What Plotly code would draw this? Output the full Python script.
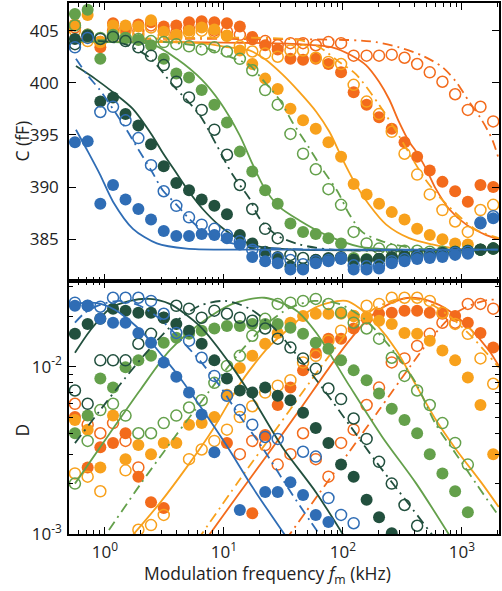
import plotly.graph_objects as go
from plotly.subplots import make_subplots

# Modulation frequencies (kHz)
F = [0.56, 0.716, 0.915, 1.17, 1.49, 1.91, 2.44, 3.12, 3.98, 5.09, 6.5, 8.31, 10.6, 13.6,
     17.3, 22.2, 28.3, 36.2, 46.2, 59.1, 75.5, 96.4, 123, 158, 201, 257, 329, 420, 536,
     685, 876, 1120, 1430, 1830]

# ---- top panel: capacitance C (fF) ----
C_blue_f = [394.3, 394.4, 388.4, 390.2, 388.8, 387.9, 386.9, 385.8, 385.3, 385.3, 385.5, 385.4, 385.1, 384.5,
            383.3, 382.9, 382.7, 382.1, 382.1, 382.7, 382.9, 383.1, 382.1, 382.1, 382.2, 382.7, 382.9, 383.1,
            383.2, 383.3, 383.5, 383.6, 386.5, 387.0]
C_blue_o = [403.4, 404.3, 397.2, 397.7, 396.4, 394.7, 392.1, 389.6, 388.2, 387.1, 386.4, 386.0, 385.4, 384.8,
            384.0, 383.5, 383.2, 383.0, 382.6, 382.9, 383.0, 383.2, 382.5, 382.4, 382.5, 382.9, 383.1, 383.3,
            383.4, 383.5, 383.7, 383.8, 386.6, 387.2]
C_dgreen_f = [404.2, 404.5, 398.2, 398.6, 397.0, 395.9, 394.1, 392.0, 390.4, 389.7, 388.8, 388.2, 387.4, 385.4,
              384.6, 383.8, 383.3, 382.4, 382.2, 383.0, 383.2, 383.3, 383.0, 383.0, 383.1, 383.3, 383.4, 383.5,
              383.6, 383.7, 383.8, 383.9, 384.0, 384.1]
C_dgreen_o = [403.7, 404.5, 404.2, 404.4, 404.0, 403.4, 402.6, 401.7, 400.1, 398.6, 397.4, 395.5, 393.1, 390.2,
              387.9, 386.0, 385.1, 383.5, 383.2, 383.0, 383.1, 383.2, 383.0, 383.0, 383.1, 383.2, 383.3, 383.4,
              383.5, 383.6, 383.7, 383.8, 384.0, 384.1]
C_green_f = [406.6, 407.0, 402.3, 404.6, 404.3, 404.1, 403.6, 402.3, 400.9, 400.5, 399.3, 397.9, 396.2, 393.4,
             391.5, 389.7, 388.4, 386.5, 385.7, 385.5, 385.1, 384.6, 383.2, 383.1, 383.1, 383.2, 383.3, 383.4,
             383.5, 383.6, 383.7, 383.8, 384.0, 384.1]
C_green_o = [405.5, 404.6, 404.3, 404.5, 404.3, 404.2, 404.0, 403.9, 403.7, 403.5, 403.2, 403.4, 403.0, 402.3,
             401.2, 399.3, 397.9, 395.1, 393.2, 391.7, 389.8, 388.3, 385.7, 384.6, 384.1, 384.0, 383.9, 383.9,
             383.8, 383.8, 383.8, 383.9, 384.0, 384.1]
C_lorange_f = [405.6, 406.5, 403.9, 405.5, 405.5, 405.4, 406.0, 404.9, 404.6, 405.0, 405.3, 405.1, 404.5, 403.1,
               401.8, 400.4, 399.4, 397.5, 396.4, 395.6, 394.3, 392.9, 390.3, 389.3, 388.4, 387.6, 386.9, 386.0,
               385.4, 385.0, 384.6, 384.5, None, None]
C_lorange_o = [405.0, 404.0, 403.9, 404.8, 405.0, 404.6, 405.3, 404.5, 404.4, 404.8, 405.0, 404.8, 404.5, 403.5,
               403.0, 402.8, 402.5, 403.1, 403.1, 402.4, 402.0, 401.8, 399.8, 398.2, 397.0, 395.3, 393.2, 391.2,
               389.3, 387.8, 386.7, 385.7, 387.8, 388.3]
C_dorange_f = [405.6, None, 403.4, 405.7, 405.3, 405.6, 405.8, 405.4, 405.5, 405.8, 405.9, 405.8, 405.7, 405.4,
               404.4, 403.6, 403.2, 402.3, 402.2, 402.3, 401.8, 401.0, 399.1, 397.9, 396.7, 395.6, 394.3, 392.9,
               391.6, 390.5, 389.6, 388.6, 390.2, 390.0]
C_dorange_o = [405.3, 404.6, 403.9, 405.0, 405.2, 405.0, 405.5, 405.0, 404.8, 405.2, 405.4, 405.0, 404.9, 404.6,
               404.2, 404.0, 403.6, 403.8, 403.8, 403.6, 403.9, 403.8, 402.6, 402.6, 402.6, 402.7, 402.4, 401.8,
               401.0, 400.1, 398.9, 397.4, 397.7, 396.3]

# fit curves, top panel (frequency, C)
fitC_blue_f_x = [0.571, 0.72, 0.91, 1.17, 1.72, 2.73, 4.86, 11.8, 2000]
fitC_blue_f_y = [395.5, 393.4, 391.2, 388.6, 386.0, 384.6, 384.1, 384.0, 384.0]
fitC_blue_o_x = [0.571, 0.706, 0.908, 1.167, 1.5, 1.89, 2.48, 3.06, 4.01, 5.06, 6.51, 8.2, 11.8, 29.2, 2000]
fitC_blue_o_y = [402.3, 400.8, 399.3, 397.5, 395.6, 393.7, 391.5, 389.7, 388.3, 387.0, 385.9, 385.2, 384.6, 384.1, 384.0]
fitC_dgreen_f_x = [0.571, 0.824, 1.167, 1.716, 2.48, 3.06, 4.01, 5.06, 6.63, 9.2, 13.5, 19.9, 43.1, 2000]
fitC_dgreen_f_y = [401.6, 400.4, 399.1, 397.5, 395.0, 393.3, 391.3, 389.6, 387.9, 386.3, 385.0, 384.3, 384.0, 384.0]
fitC_dgreen_o_x = [0.571, 0.908, 1.47, 2.38, 3.71, 6.25, 8.7, 11.8, 16.4, 19.9, 27.6, 43.1, 81.2, 2000]
fitC_dgreen_o_y = [404.1, 404.0, 403.7, 402.4, 399.8, 396.9, 394.0, 391.2, 388.9, 387.0, 385.4, 384.5, 384.0, 384.0]
fitC_green_f_x = [0.56, 1.167, 2.48, 4.01, 6.51, 9.2, 13.5, 17.4, 21.9, 29.2, 43.1, 72.5, 137, 297, 2000]
fitC_green_f_y = [404.0, 403.9, 403.7, 402.3, 400.3, 398.2, 395.0, 392.2, 389.9, 388.1, 386.8, 385.4, 384.3, 384.0, 384.0]
fitC_green_o_x = [0.56, 2.38, 6.25, 11.1, 16.4, 21.1, 29.2, 37.7, 50.4, 67.3, 89.9, 113, 145, 214, 413, 2000]
fitC_green_o_y = [404.1, 404.0, 403.5, 402.5, 401.7, 400.3, 398.4, 396.2, 394.0, 391.7, 389.6, 387.4, 385.7, 384.8, 384.1, 384.0]
fitC_lorange_f_x = [0.56, 6.25, 11.1, 16.4, 21.9, 31.0, 43.1, 59.8, 76.9, 98.9, 124.6, 166, 231, 360, 561, 893, 1687]
fitC_lorange_f_y = [403.9, 403.8, 403.4, 403.1, 402.3, 400.8, 399.1, 397.2, 395.3, 392.7, 390.5, 388.3, 386.4, 385.1, 384.5, 384.1, 384.0]
fitC_lorange_o_x = [0.56, 43.1, 63.5, 93.0, 129, 201, 282, 362, 481, 642, 947, 1315, 2036]
fitC_lorange_o_y = [404.1, 404.1, 403.4, 402.0, 400.8, 397.9, 395.3, 393.2, 390.9, 389.1, 387.2, 385.9, 385.1]
fitC_dorange_f_x = [0.56, 43.1, 81.2, 119, 156, 201, 245, 297, 362, 413, 502, 605, 779, 1087, 1600, 2036]
fitC_dorange_f_y = [404.0, 403.7, 403.4, 402.6, 401.7, 400.1, 398.4, 396.2, 394.3, 393.4, 391.7, 389.8, 387.9, 386.4, 385.4, 385.0]
fitC_dorange_o_x = [0.56, 113, 190, 297, 465, 684, 892, 1146, 1454, 1790, 2036]
fitC_dorange_o_y = [404.2, 404.1, 403.9, 403.4, 402.6, 401.5, 400.1, 398.2, 396.5, 394.6, 392.7]

# ---- bottom panel: dissipation D ----
D_blue_f = [0.0231, 0.0231, 0.0193, 0.0183, 0.0183, 0.0159, 0.0139, 0.0106, 0.0087, 0.0070, 0.00518, 0.00308,
            None, 0.00139, None, 0.00178, 0.00178, 0.00204, 0.00171, 0.00130, 0.00118, None, None, None, None,
            None, None, None, None, None, None, None, None, None]
D_blue_o = [0.0241, 0.0231, 0.0228, 0.0258, 0.0258, 0.0258, 0.0247, 0.0207, 0.0159, 0.0143, 0.0113, 0.0088,
            0.0067, 0.0055, 0.0045, 0.0038, 0.0037, None, 0.0031, 0.0029, 0.00164, 0.0013, 0.00116, None, None,
            None, None, None, None, None, None, None, None, None]
D_dgreen_f = [0.0157, 0.0180, 0.0193, 0.0222, 0.0216, 0.0210, 0.0210, 0.0196, 0.0180, 0.0164, 0.0137, 0.0109,
              0.0085, 0.0072, 0.0070, 0.0075, 0.0067, 0.0063, 0.0053, 0.0043, 0.0035, 0.0026, 0.0022, 0.0016,
              0.00126, 0.00101, None, None, None, None, None, None, None, None]
D_dgreen_o = [0.0072, 0.0060, 0.0109, 0.0109, 0.0109, 0.0137, 0.0157, 0.0196, 0.0231, 0.0222, 0.0196, 0.0216,
              0.0207, 0.0196, 0.0188, 0.0169, 0.0147, 0.0130, 0.0112, 0.0097, 0.0074, 0.0064, 0.0049, 0.0037,
              0.0027, 0.0020, 0.00149, 0.00112, None, None, None, None, None, None]
D_green_f = [0.0040, 0.0051, 0.0085, 0.0075, 0.0099, 0.0109, 0.0116, 0.0139, 0.0149, 0.0157, 0.0164, 0.0169,
             0.0175, 0.0175, 0.0180, 0.0180, 0.0180, 0.0171, 0.0157, 0.0139, 0.0128, 0.0109, 0.0095, 0.0083,
             0.0069, 0.0056, 0.0048, 0.0040, 0.0030, 0.0023, 0.0018, 0.00135, None, None]
D_green_o = [0.0020, 0.0036, 0.0055, 0.0060, 0.0051, 0.0040, 0.0040, 0.0046, 0.0051, 0.0057, 0.0063, 0.0080,
             0.0101, 0.0116, 0.0153, 0.0193, 0.0237, 0.0241, 0.0247, 0.0254, 0.0237, 0.0210, 0.0183, 0.0169,
             0.0147, 0.0113, 0.0088, 0.0072, 0.0059, 0.0046, 0.0035, 0.0026, None, None]
D_lorange_f = [0.0048, 0.0042, 0.0025, 0.0051, 0.0028, 0.0034, 0.0030, 0.0035, 0.0035, 0.0045, 0.0046, 0.0050,
               0.0068, 0.0098, 0.0116, 0.0137, 0.0159, 0.0183, 0.0201, 0.0207, 0.0207, 0.0207, 0.0201, 0.0198,
               0.0188, 0.0180, 0.0159, 0.0157, 0.0143, 0.0125, 0.0109, 0.0086, 0.0059, 0.0030]
D_lorange_o = [0.0023, 0.0022, 0.0018, None, 0.0024, 0.00106, 0.00113, 0.0013, None, 0.0028, 0.0032, 0.0036,
               0.0042, 0.0050, 0.0058, 0.0070, 0.0077, 0.0083, 0.0106, 0.0116, 0.0143, 0.0164, 0.0201, 0.0231,
               0.0237, 0.0258, 0.0258, 0.0258, 0.0247, 0.0210, 0.0180, 0.0157, 0.0112, 0.0079]
D_dorange_f = [0.0050, 0.0025, 0.0033, 0.0035, 0.0040, 0.0022, 0.00155, 0.00143, None, None, None, None,
               0.0035, None, 0.00133, 0.0039, 0.0059, 0.0075, 0.0095, 0.0121, 0.0147, 0.0147, 0.0169, 0.0193,
               0.0207, 0.0210, 0.0216, 0.0216, 0.0210, 0.0207, 0.0201, 0.0183, 0.0159, 0.0130]
D_dorange_o = [0.0060, 0.0045, 0.0040, 0.0046, 0.0036, 0.0025, None, None, None, None, None, None, None,
               0.0030, 0.0036, 0.0034, 0.0026, 0.0030, 0.0040, 0.0028, 0.0022, 0.0035, 0.0042, 0.0059,
               0.0075, 0.0106, 0.0112, 0.0133, 0.0157, 0.0183, 0.0183, 0.0237, 0.0237, 0.0222]

# fit curves, bottom panel (frequency, D)
fitD_blue_f_x = [0.56, 0.68, 0.908, 1.213, 1.62, 2.165, 2.89, 4.01, 6.25, 10.5, 17.4, 33.4]
fitD_blue_f_y = [0.0235, 0.0241, 0.0238, 0.0219, 0.0188, 0.0155, 0.0121, 0.0091, 0.00586, 0.00339, 0.0019, 0.00096]
fitD_blue_o_x = [0.56, 0.68, 0.908, 1.336, 1.965, 2.89, 4.25, 6.25, 9.2, 13.5, 20.7, 35.5, 52.4, 65.8]
fitD_blue_o_y = [0.0183, 0.0210, 0.0234, 0.0247, 0.0231, 0.0193, 0.0147, 0.0109, 0.0077, 0.0051, 0.00334, 0.00183, 0.00121, 0.00096]
fitD_dgreen_f_x = [0.56, 0.749, 1.1, 1.62, 2.38, 3.5, 6.25, 11.8, 17.4, 31.0, 59.8, 103]
fitD_dgreen_f_y = [0.0121, 0.0164, 0.0222, 0.0247, 0.0254, 0.0237, 0.0175, 0.0099, 0.0065, 0.0033, 0.00176, 0.00096]
fitD_dgreen_o_x = [0.56, 0.908, 1.47, 2.38, 3.86, 6.25, 10.1, 16.4, 26.6, 43.1, 69.8, 113, 190, 362, 561]
fitD_dgreen_o_y = [0.00349, 0.00547, 0.0085, 0.0128, 0.0183, 0.0231, 0.0247, 0.0222, 0.0169, 0.0112, 0.0072, 0.0045, 0.0027, 0.00149, 0.00099]
fitD_green_f_x = [0.56, 1.1, 1.965, 3.5, 6.25, 11.8, 21.9, 40.7, 59.8, 113, 214, 413, 779]
fitD_green_f_y = [0.0020, 0.0040, 0.0072, 0.0125, 0.0180, 0.0237, 0.0258, 0.0216, 0.0159, 0.0077, 0.0038, 0.0020, 0.00099]
fitD_green_o_x = [0.85, 1.965, 3.86, 7.6, 13.5, 21.9, 35.5, 57.6, 93.0, 151, 245, 397, 605, 892, 1315, 2036]
fitD_green_o_y = [0.00082, 0.00196, 0.0038, 0.0072, 0.0121, 0.0175, 0.0224, 0.0247, 0.0237, 0.0193, 0.0133, 0.0083, 0.0045, 0.0030, 0.0020, 0.00128]
fitD_lorange_f_x = [1.6, 2.89, 4.87, 8.04, 13.5, 16.4, 24.2, 35.5, 52.4, 76.9, 107, 137, 190, 282, 413, 605, 892, 1476, 2036]
fitD_lorange_f_y = [0.00093, 0.00153, 0.00251, 0.0042, 0.0078, 0.0095, 0.0133, 0.0170, 0.0216, 0.0241, 0.0247, 0.0224, 0.0180, 0.0125, 0.0077, 0.0048, 0.0032, 0.0020, 0.00145]
fitD_lorange_o_x = [6.0, 13.5, 29.2, 63.5, 113, 183, 297, 481, 779, 1146, 1687, 2036]
fitD_lorange_o_y = [0.00092, 0.0021, 0.0045, 0.0097, 0.0164, 0.0222, 0.0254, 0.0247, 0.0201, 0.0157, 0.0116, 0.0099]
fitD_dorange_f_x = [7.0, 13.5, 24.2, 43.1, 76.9, 113, 166, 245, 362, 530, 779, 1146, 1687, 2036]
fitD_dorange_f_y = [0.00092, 0.00176, 0.0031, 0.0055, 0.0099, 0.0143, 0.0196, 0.0237, 0.0258, 0.0247, 0.0216, 0.0171, 0.0125, 0.0101]
fitD_dorange_o_x = [33, 63.5, 113, 201, 362, 582, 857, 1260, 1687, 2036]
fitD_dorange_o_y = [0.00092, 0.00176, 0.0031, 0.0055, 0.0099, 0.0155, 0.0206, 0.0237, 0.0251, 0.0251]

x_tickvals = [1, 10, 100, 1000]
x_ticktext = ["10<sup>0</sup>", "10<sup>1</sup>", "10<sup>2</sup>", "10<sup>3</sup>"]
x_minor = [0.5, 0.6, 0.7, 0.8, 0.9, 2, 3, 4, 5, 6, 7, 8, 9, 20, 30, 40, 50, 60, 70, 80, 90,
           200, 300, 400, 500, 600, 700, 800, 900, 2000]
c_tickvals = [385, 390, 395, 400, 405]
d_tickvals = [0.001, 0.01]
d_ticktext = ["10<sup>-3</sup>", "10<sup>-2</sup>"]
d_minor = [0.002, 0.003, 0.004, 0.005, 0.006, 0.007, 0.008, 0.009, 0.02, 0.03]

COL = {
    "blue": "#2f6db5",
    "dgreen": "#22503e",
    "green": "#64a04b",
    "lorange": "#f8a11c",
    "dorange": "#f36b1c",
}

series = {
    "dorange": (C_dorange_f, C_dorange_o, D_dorange_f, D_dorange_o,
                (fitC_dorange_f_x, fitC_dorange_f_y), (fitC_dorange_o_x, fitC_dorange_o_y),
                (fitD_dorange_f_x, fitD_dorange_f_y), (fitD_dorange_o_x, fitD_dorange_o_y)),
    "lorange": (C_lorange_f, C_lorange_o, D_lorange_f, D_lorange_o,
                (fitC_lorange_f_x, fitC_lorange_f_y), (fitC_lorange_o_x, fitC_lorange_o_y),
                (fitD_lorange_f_x, fitD_lorange_f_y), (fitD_lorange_o_x, fitD_lorange_o_y)),
    "green": (C_green_f, C_green_o, D_green_f, D_green_o,
              (fitC_green_f_x, fitC_green_f_y), (fitC_green_o_x, fitC_green_o_y),
              (fitD_green_f_x, fitD_green_f_y), (fitD_green_o_x, fitD_green_o_y)),
    "dgreen": (C_dgreen_f, C_dgreen_o, D_dgreen_f, D_dgreen_o,
               (fitC_dgreen_f_x, fitC_dgreen_f_y), (fitC_dgreen_o_x, fitC_dgreen_o_y),
               (fitD_dgreen_f_x, fitD_dgreen_f_y), (fitD_dgreen_o_x, fitD_dgreen_o_y)),
    "blue": (C_blue_f, C_blue_o, D_blue_f, D_blue_o,
             (fitC_blue_f_x, fitC_blue_f_y), (fitC_blue_o_x, fitC_blue_o_y),
             (fitD_blue_f_x, fitD_blue_f_y), (fitD_blue_o_x, fitD_blue_o_y)),
}

H_TOP, H_BOT = 279, 254
fig = make_subplots(rows=2, cols=1, shared_xaxes=False, vertical_spacing=0,
                    row_heights=[H_TOP / (H_TOP + H_BOT), H_BOT / (H_TOP + H_BOT)])

DASHDOT = "10px,5px,2px,5px"
for key, (cf, co, df, do, fcf, fco, fdf, fdo) in series.items():
    col = COL[key]
    for row, yf, yo, lf, lo in [(1, cf, co, fcf, fco), (2, df, do, fdf, fdo)]:
        fig.add_trace(go.Scatter(x=F, y=yo, mode="markers",
                                 marker=dict(symbol="circle-open", size=11, color=col,
                                             line=dict(width=1.5, color=col)),
                                 showlegend=False, cliponaxis=True), row=row, col=1)
        fig.add_trace(go.Scatter(x=F, y=yf, mode="markers",
                                 marker=dict(symbol="circle", size=12, color=col, line=dict(width=0)),
                                 showlegend=False, cliponaxis=True), row=row, col=1)
        fig.add_trace(go.Scatter(x=lf[0], y=lf[1], mode="lines",
                                 line=dict(color=col, width=1.8, shape="spline", smoothing=0.8),
                                 showlegend=False), row=row, col=1)
        fig.add_trace(go.Scatter(x=lo[0], y=lo[1], mode="lines",
                                 line=dict(color=col, width=1.8, dash=DASHDOT, shape="spline", smoothing=0.8),
                                 showlegend=False), row=row, col=1)

FONT = "Open Sans, Liberation Sans, sans-serif"
TXT = "#222"
axis_common = dict(showline=True, linecolor="black", linewidth=1.5, mirror="ticks",
                   ticks="inside", ticklen=7, tickwidth=1.3, tickcolor="black",
                   showgrid=False, zeroline=False,
                   tickfont=dict(family=FONT, size=17, color=TXT))
xr = [-0.3018, 3.311]
fig.update_xaxes(type="log", range=xr, tickmode="array", tickvals=x_tickvals, ticktext=x_ticktext,
                 minor=dict(tickmode="array", tickvals=x_minor, ticks="inside", ticklen=4,
                            tickwidth=1.2, tickcolor="black", showgrid=False),
                 **axis_common)
fig.update_xaxes(showticklabels=False, row=1, col=1)
fig.update_xaxes(showticklabels=True, ticklabelstandoff=2, row=2, col=1)
fig.update_yaxes(range=[381.0, 407.65], tickmode="array", tickvals=c_tickvals,
                 ticklabelstandoff=5, row=1, col=1, **axis_common)
fig.update_yaxes(type="log", range=[-3, -1.488], tickmode="array", tickvals=d_tickvals,
                 ticktext=d_ticktext, ticklabelstandoff=2,
                 minor=dict(tickmode="array", tickvals=d_minor, ticks="inside", ticklen=4,
                            tickwidth=1.2, tickcolor="black", showgrid=False),
                 row=2, col=1, **axis_common)

L, R, T, B = 69, 2, 1, 57
W, HH = 502, 591
pw, ph = W - L - R, HH - T - B

def px_to_paper(xp, yp):
    return (xp - L) / pw, (HH - B - yp) / ph

ax_, ay_ = px_to_paper(22, 140)
fig.add_annotation(text="C (fF)", x=ax_, y=ay_, xref="paper", yref="paper", showarrow=False,
                   xanchor="center", yanchor="middle",
                   textangle=-90, font=dict(family=FONT, size=17.5, color=TXT))
ax_, ay_ = px_to_paper(22, 430)
fig.add_annotation(text="D", x=ax_, y=ay_, xref="paper", yref="paper", showarrow=False,
                   xanchor="center", yanchor="middle",
                   textangle=-90, font=dict(family=FONT, size=17.5, color=TXT))
ax_, ay_ = px_to_paper(268, 575)
fig.add_annotation(text="Modulation frequency <i>f</i><sub>m</sub> (kHz)", x=ax_, y=ay_,
                   xref="paper", yref="paper", showarrow=False,
                   xanchor="center", yanchor="middle",
                   font=dict(family=FONT, size=17.5, color=TXT))

fig.update_layout(width=W, height=HH, margin=dict(l=L, r=R, t=T, b=B),
                  plot_bgcolor="white", paper_bgcolor="white", showlegend=False)

fig.write_html("out.html")
